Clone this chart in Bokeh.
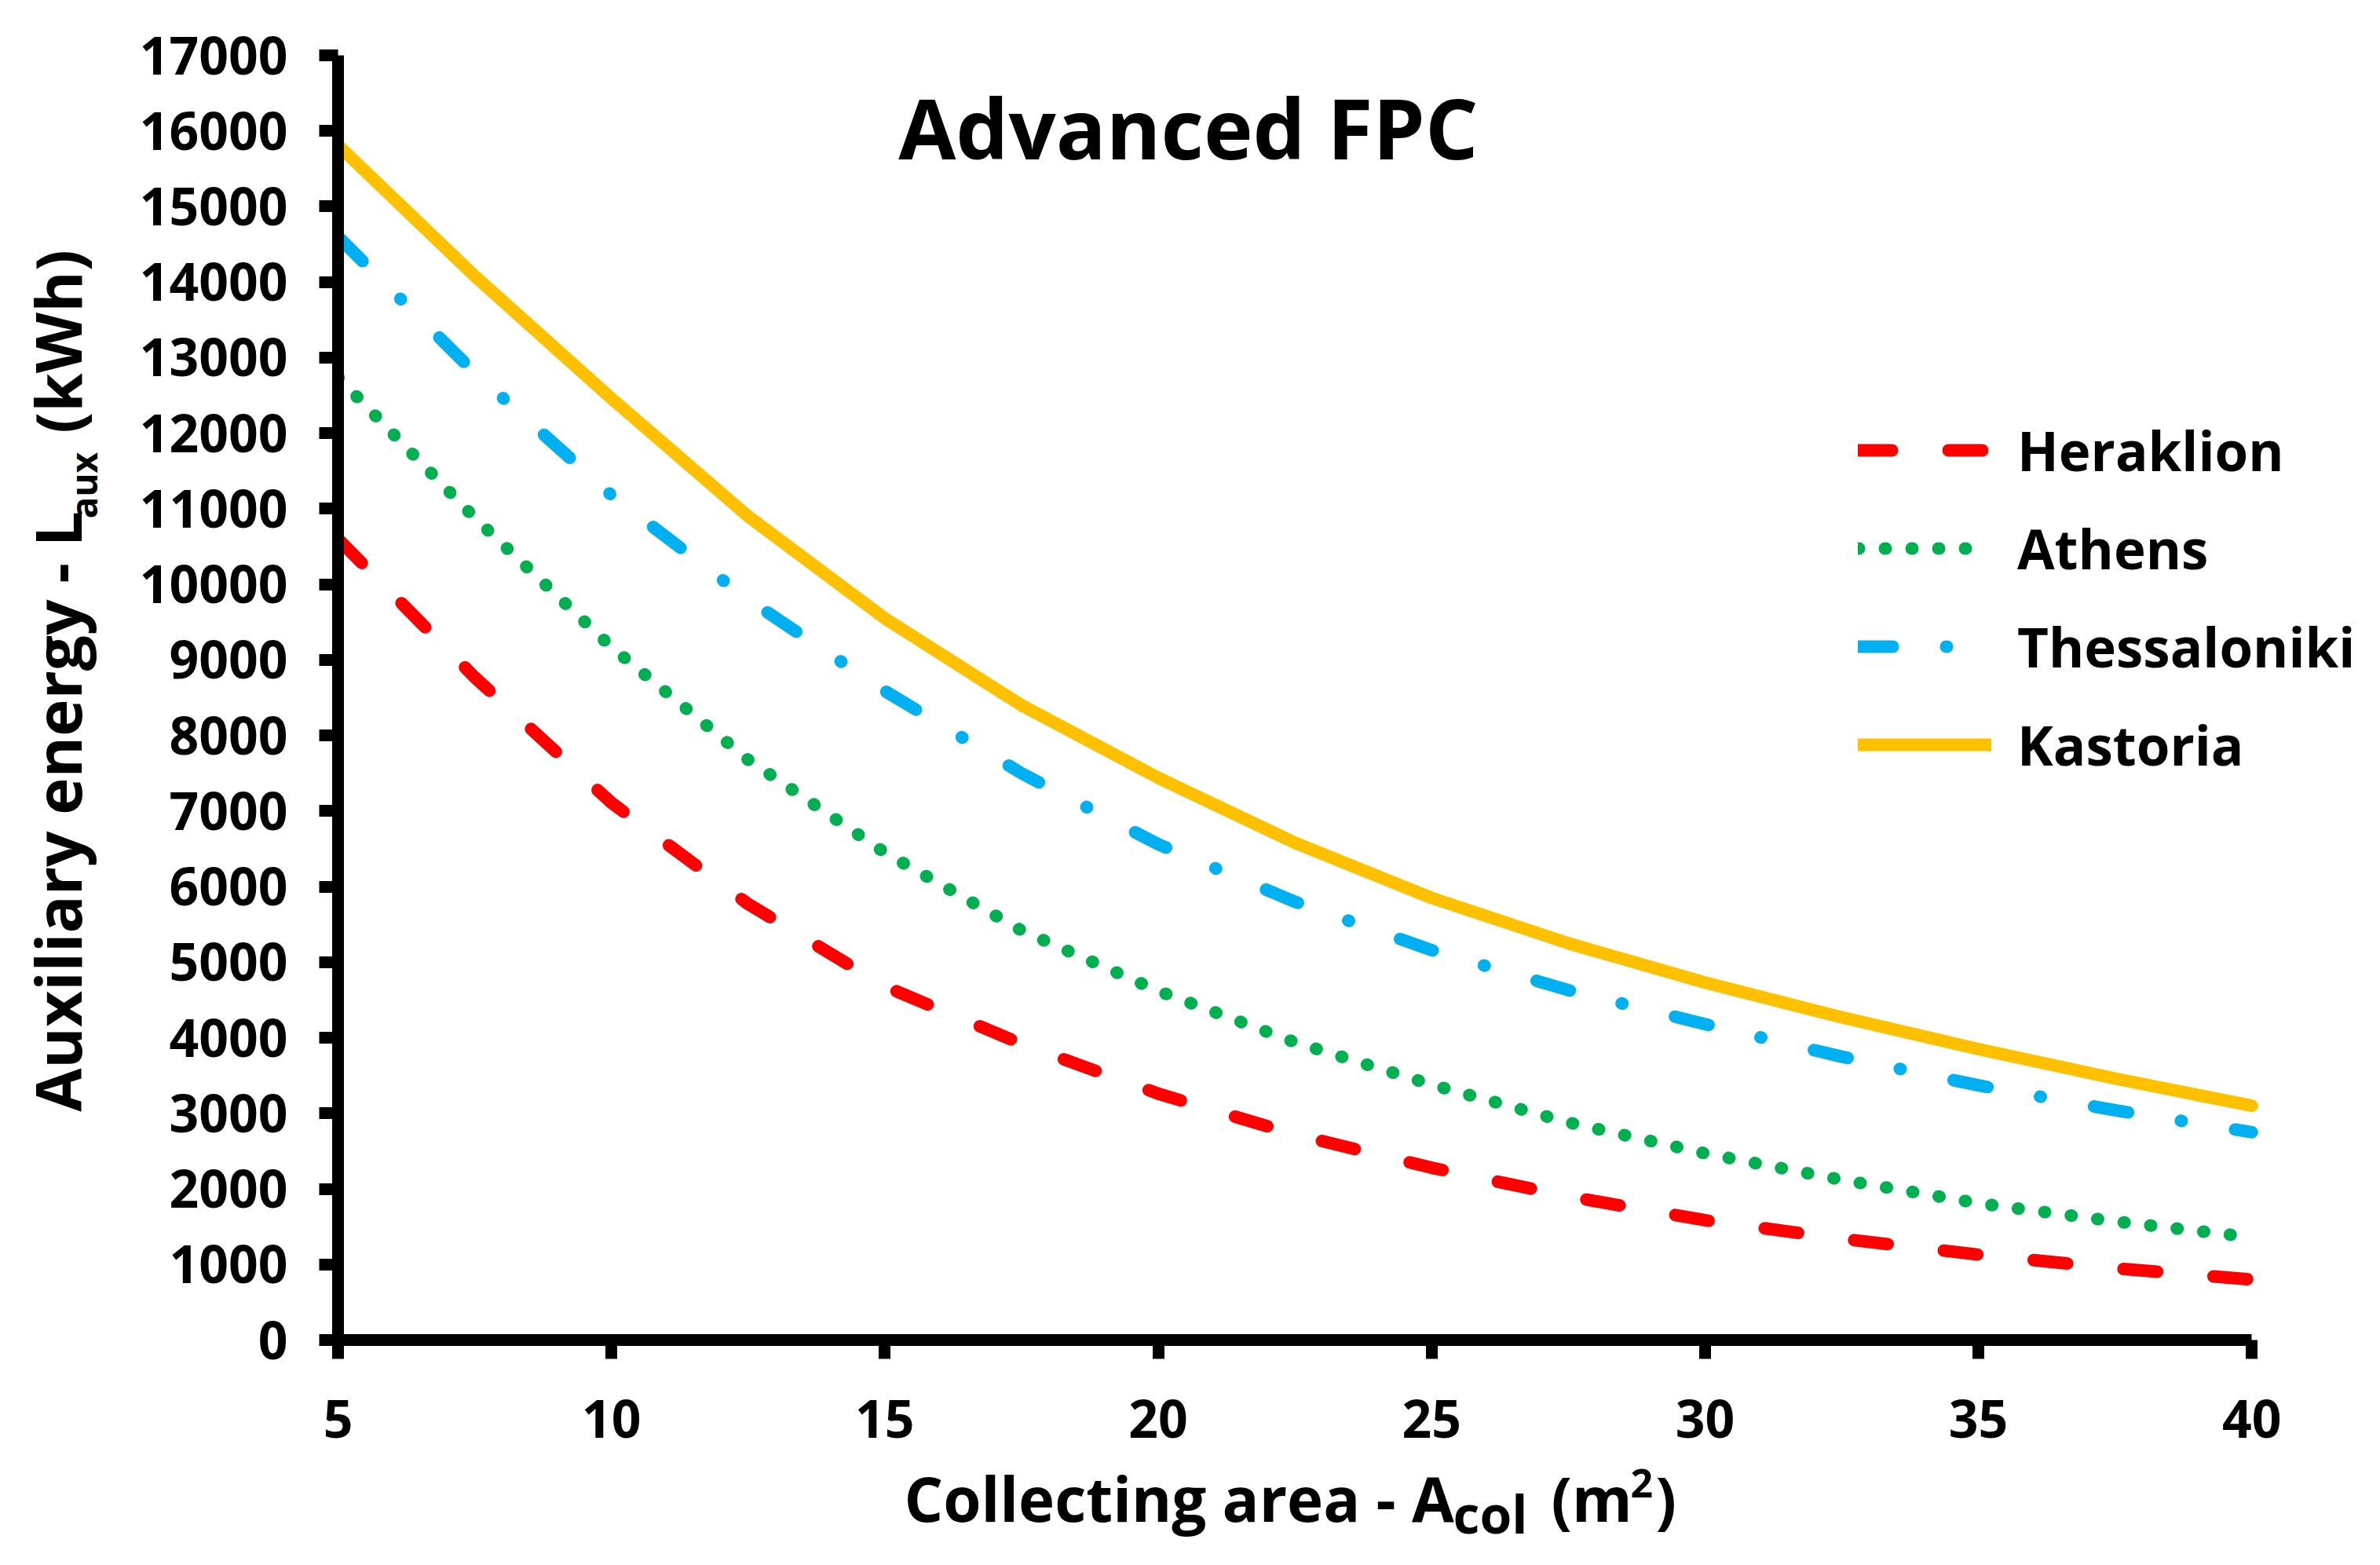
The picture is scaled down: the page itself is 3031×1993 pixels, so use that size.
import math
from bokeh.plotting import figure
from bokeh.layouts import column, row
from bokeh.models import Range1d, FixedTicker, Legend, LegendItem, Label
from bokeh.embed import file_html
from bokeh.resources import INLINE

# collecting area (m2) and auxiliary energy (kWh)
area = [5, 7.5, 10, 12.5, 15, 17.5, 20, 22.5, 25, 27.5, 30, 32.5, 35, 37.5, 40]
heraklion = [10600, 8770, 7110, 5770, 4680, 3920, 3260, 2720, 2280, 1900, 1585, 1340, 1130, 950, 800]
athens = [12740, 10880, 9170, 7680, 6450, 5420, 4620, 3940, 3380, 2880, 2470, 2120, 1810, 1570, 1360]
thessaloniki = [14600, 12800, 11180, 9800, 8590, 7500, 6560, 5800, 5160, 4630, 4180, 3750, 3370, 3040, 2750]
kastoria = [15810, 14080, 12460, 10900, 9550, 8400, 7440, 6580, 5850, 5250, 4730, 4270, 3850, 3460, 3100]

x_ticks = [5, 10, 15, 20, 25, 30, 35, 40]
y_ticks = list(range(0, 17001, 1000))

FONT = "Open Sans"
SHIFT = 0.37  # bokeh draws "alphabetic" text a bit low, move it back up (in em)


def blank(w, h):
    f = figure(width=w, height=h, x_range=Range1d(0, w), y_range=Range1d(0, h),
               output_backend="svg", toolbar_location=None, tools="",
               x_axis_type=None, y_axis_type=None, min_border=0)
    f.outline_line_color = None
    f.grid.grid_line_color = None
    return f


def add_text(fig, x, y, text, size, angle=0, align="left"):
    fig.add_layout(Label(x=x, y=y, text=text, angle=angle, text_font=FONT,
                         text_font_style="bold", text_font_size=f"{size}px",
                         text_align=align, text_baseline="alphabetic", text_color="black"))


# main plot, frame runs to the right edge so the legend is not cut
p = figure(width=2860, height=1852, x_range=Range1d(5, 42.05), y_range=Range1d(0, 17000),
           output_backend="svg", toolbar_location=None, tools="",
           min_border_left=280, min_border_right=0, min_border_top=70, min_border_bottom=146)
p.outline_line_color = None
p.xgrid.grid_line_color = None
p.ygrid.grid_line_color = None

p.xaxis.ticker = FixedTicker(ticks=x_ticks)
p.yaxis.ticker = FixedTicker(ticks=y_ticks)
p.xaxis.bounds = (5, 40)
p.yaxis.bounds = (0, 17000)
for ax in (p.xaxis[0], p.yaxis[0]):
    ax.axis_line_width = 15
    ax.axis_line_color = "black"
    ax.major_tick_line_width = 15
    ax.major_tick_line_color = "black"
    ax.major_tick_out = 24
    ax.major_tick_in = 0
    ax.minor_tick_line_color = None
    ax.major_label_text_font = FONT
    ax.major_label_text_font_style = "bold"
    ax.major_label_text_font_size = "66px"
    ax.major_label_text_color = "black"
p.yaxis.major_label_standoff = 40
p.xaxis.major_label_standoff = 52

r1 = p.line(area, heraklion, line_color="#FF0000", line_width=16, line_dash="43 72",
            line_cap="round", line_join="round")
r2 = p.line(area, athens, line_color="#00B050", line_width=16, line_dash="1 33",
            line_cap="round", line_join="round")
r3 = p.line(area, thessaloniki, line_color="#00B0F0", line_width=16, line_dash="44 68 1 69",
            line_cap="round", line_join="round")
r4 = p.line(area, kastoria, line_color="#FFC000", line_width=16,
            line_cap="round", line_join="round")

legend = Legend(items=[LegendItem(label="Heraklion", renderers=[r1]),
                       LegendItem(label="Athens", renderers=[r2]),
                       LegendItem(label="Thessaloniki", renderers=[r3]),
                       LegendItem(label="Kastoria", renderers=[r4])],
                location=(1936, 711), orientation="vertical",
                glyph_width=170, glyph_height=76, label_height=76, spacing=31,
                padding=0, margin=0, label_standoff=33,
                border_line_color=None, background_fill_alpha=0,
                label_text_font=FONT, label_text_font_style="bold",
                label_text_font_size="69px", label_text_color="black")
p.add_layout(legend)

add_text(p, 20.55, 16054, "Advanced FPC", 106, align="center")

# y axis label: Auxiliary energy - L_aux (kWh), in its own strip on the left
ylab = blank(150, 1852)
up = math.pi / 2
add_text(ylab, 102 - SHIFT * 80, 329, "Auxiliary energy - L", 80, angle=up)
add_text(ylab, 123 - SHIFT * 46, 1184, "aux", 46, angle=up)
add_text(ylab, 102 - SHIFT * 80, 1307, "(kWh)", 80, angle=up)

# x axis label: Collecting area - A_col (m^2), in its own strip below
xlab = blank(3010, 123)
add_text(xlab, 1151, 68, "Collecting area - A", 78)
add_text(xlab, 1850, 49, "col", 66)
add_text(xlab, 1975, 68, "(m", 78)
add_text(xlab, 2076, 87, "2", 50)
add_text(xlab, 2108, 68, ")", 78)

page = column(row(ylab, p), xlab)
open("out.html", "w").write(file_html(page, INLINE))
